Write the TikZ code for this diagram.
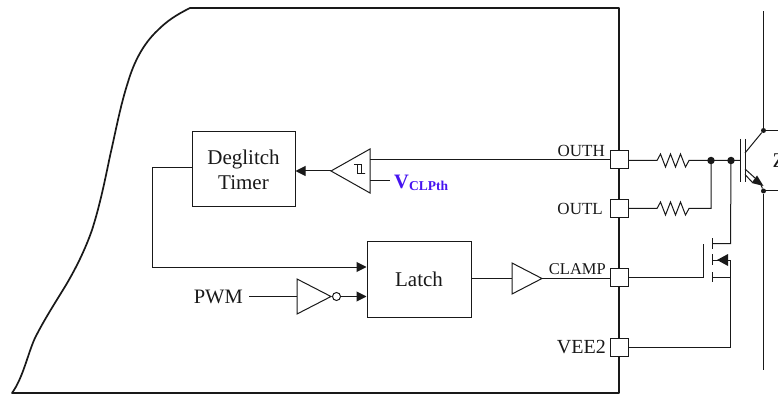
\documentclass[tikz,border=0pt]{standalone}
\usepackage{fontspec}
\setmainfont{Liberation Serif}
\usetikzlibrary{arrows.meta}
\definecolor{ink}{RGB}{25,25,25}
\definecolor{vblue}{RGB}{70,20,240}
\tikzset{
  x=1pt,y=-1pt,
  wire/.style={draw=ink,line width=1pt},
  wall/.style={draw=ink,line width=1.7pt,line join=round},
  sbox/.style={draw=ink,line width=1pt,fill=white,inner sep=0pt,align=center,font=\fontsize{21}{25}\selectfont,text=ink},
  pin/.style={draw=ink,line width=1pt,fill=white,minimum width=18pt,minimum height=18pt,inner sep=0pt},
  plabel/.style={font=\fontsize{17}{18}\selectfont,text=ink,inner sep=0pt,anchor=east},
  arrowed/.style={wire,-{Triangle[length=10pt,width=10pt]}},
  gate/.style={draw=ink,line width=1pt,fill=white,line join=miter},
  jdot/.style={circle,fill=ink,inner sep=0pt,minimum size=7.5pt},
  sdot/.style={circle,fill=ink,inner sep=0pt,minimum size=5pt},
  res/.style={wire,line join=miter},
}
\begin{document}
\begin{tikzpicture}
\useasboundingbox (0,0) rectangle (778,395);
% package outline
\draw[wall] (619,8) -- (190,8)
  .. controls (176,15) and (167,21) .. (158,30)
  .. controls (143,44) and (134,62) .. (128,82)
  .. controls (120,107) and (116,130) .. (110,156)
  .. controls (105,180) and (100,205) .. (92,230)
  .. controls (85,250) and (76,268) .. (66,285)
  .. controls (55,303) and (44,320) .. (35,338)
  .. controls (28,353) and (23,378) .. (12,393)
  -- (619,393) -- cycle;
% pins
\node[pin] (outh) at (619,159.5) {};
\node[pin] (outl) at (619,208.5) {};
\node[pin] (clamp) at (619,277.5) {};
\node[pin] (vee) at (619,347) {};
\node[plabel] (louth) at (605,150.5) {OUTH};
\node[plabel] (loutl) at (603,208.5) {OUTL};
\node[plabel,font=\fontsize{16.5}{18}\selectfont] (lclamp) at (606,269.5) {CLAMP};
\node[plabel,font=\fontsize{20}{22}\selectfont] (lvee) at (606,347) {VEE2};
% blocks
\node[sbox,minimum width=103pt,minimum height=75pt] (deg) at (243.5,169.5) {Deglitch\\Timer};
\node[sbox,minimum width=104pt,minimum height=76pt] (latch) at (419,279) {Latch};
\node[inner sep=0pt,font=\fontsize{20.5}{22}\selectfont,text=ink,anchor=east] (pwm) at (243,297) {PWM};
% comparator
\coordinate (cmpt) at (331,171);
\coordinate (cmpin) at (370,159.5);
\coordinate (cmpref) at (370,181);
\draw[gate] (370,149) -- (370,193) -- (cmpt) -- cycle;
\draw[draw=ink,line width=1pt] (354,165) -- (361,165) -- (361,173.5) -- (365,173.5) -- (357,173.5) -- (357,165);
\draw[wire] (outh.west) -- (cmpin);
\draw[arrowed] (cmpt) -- (cmpt -| deg.east);
\coordinate (refend) at (390,181);
\draw[wire] (cmpref) -- (refend);
\node[inner sep=0pt,anchor=west,text=vblue,font=\bfseries\fontsize{20.5}{20}\selectfont] (vclp) at (394,183) {V\raisebox{-2.5pt}{\fontsize{13.5}{14}\selectfont CLPth}};
% deglitch to latch
\coordinate (degout) at (deg.west |- 0,168);
\coordinate (latchin) at (latch.west |- 0,267);
\draw[arrowed] (degout) -- (152,168) -- (152,267) -- (latchin);
% pwm inverter
\coordinate (invin) at (297,296.5);
\coordinate (invout) at (331,296.5);
\node[circle,draw=ink,line width=1pt,inner sep=0pt,minimum size=8pt,fill=white] (bub) at (336.5,296.5) {};
\draw[wire] (pwm.east |- invin) ++(6,0) -- (invin);
\draw[gate] (297,279) -- (297,314) -- (invout) -- cycle;
\draw[arrowed] (bub.east) -- (latch.west |- bub.east);
% output buffer
\coordinate (bufin) at (512,278.5);
\coordinate (bufout) at (542,278.5);
\draw[wire] (latch.east |- bufin) -- (bufin);
\draw[gate] (512,263) -- (512,294) -- (bufout) -- cycle;
\draw[wire] (bufout) -- (clamp.west |- bufout);
% resistors
\draw[res] (outh.east |- 0,160.5) -- (657,160.5) -- ++(3.5,-6.5) -- ++(5,13) -- ++(5,-13) -- ++(5,13) -- ++(5,-13) -- ++(5,13) -- ++(3.5,-6.5) -- (711,160.5) coordinate (j1) -- (731,160.5) coordinate (j2) -- (740,160.5) coordinate (gatept);
\draw[res] (outl.east) -- (657,208.5) -- ++(3.5,-6.5) -- ++(5,13) -- ++(5,-13) -- ++(5,13) -- ++(5,-13) -- ++(5,13) -- ++(3.5,-6.5) -- (711,208.5) -- (j1);
\node[jdot] (d1) at (j1) {};
\node[jdot] (d2) at (j2) {};
% IGBT
\draw[wire] (740,139) -- (740,182);
\draw[wire] (745,139) -- (745,182);
\node[sdot] (cdot) at (763.5,130.5) {};
\node[sdot] (edot) at (763.5,191) {};
\draw[wire] (745,153) -- (cdot);
\draw[wire] (cdot.center) -- (778,130.5);
\draw[wire] (edot.center) -- (778,191);
\draw[wire] (745,169) -- (755,178);
\draw[wire] (745,174.5) -- (752,182);
\fill[ink] (763.5,186) -- (757,175.5) -- (751.5,183) -- cycle;
\draw[wire] (761,185) -- (edot);
\draw[wire,line width=1.3pt] (cdot) -- (763.5,11);
\draw[wire,line width=1.3pt] (edot) -- (763.5,370);
\node[inner sep=0pt,anchor=west,font=\fontsize{21}{22}\selectfont,text=ink] (z) at (772.5,161) {Z};
% MOSFET
\draw[wire] (d2.center) -- (730.5,243.5) -- (712.5,243.5);
\draw[wire] (712.5,238) -- (712.5,249);
\draw[wire] (712.5,254) -- (712.5,265);
\draw[wire] (712.5,272) -- (712.5,282);
\draw[wire] (703,244) -- (703,277.5) -- (clamp.east);
\draw[wire] (712.5,260) -- (730,260);
\fill[ink] (717,260) -- (728,254) -- (728,266) -- cycle;
\draw[wire] (712.5,277.5) -- (730,277.5);
\draw[wire] (730,260) -- (730,347) -- (vee.east);
\end{tikzpicture}
\end{document}
